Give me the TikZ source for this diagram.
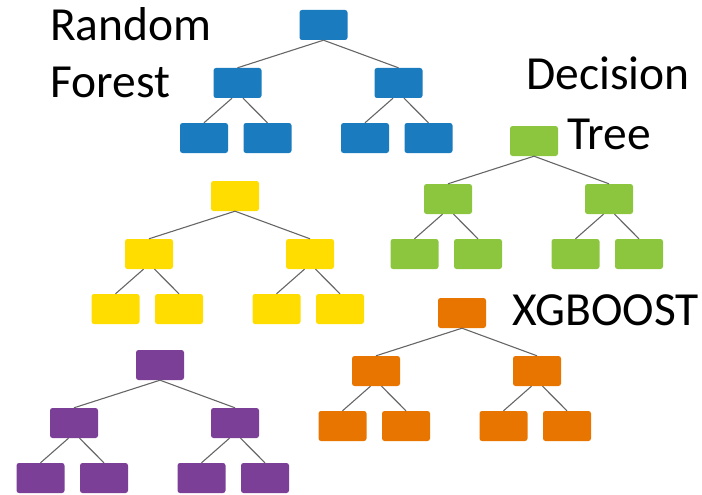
\documentclass[tikz,border=0pt]{standalone}
\usepackage{fontspec}
\setmainfont{Carlito}
\definecolor{tblue}{HTML}{1B7BBF}
\definecolor{tgreen}{HTML}{8CC63F}
\definecolor{tyellow}{HTML}{FFDD00}
\definecolor{torange}{HTML}{E87500}
\definecolor{tpurple}{HTML}{7B3F98}
\tikzset{
  leaf/.style={rectangle,rounded corners=2.5pt,minimum width=48pt,minimum height=30pt,inner sep=0pt,fill=#1},
  link/.style={draw=black!60,line width=1.1pt},
  caption/.style={inner sep=0pt,font=\fontsize{47.5}{47.5}\selectfont,text=black}
}
\newcommand{\maketree}[4]{%
  \begin{scope}[shift={(#3,#4)}]
    \node[leaf=#2] (#1r) at (0,0) {};
    \node[leaf=#2] (#1a) at (-86,58) {};
    \node[leaf=#2] (#1b) at (75,58) {};
    \node[leaf=#2] (#1c) at (-119.5,113) {};
    \node[leaf=#2] (#1d) at (-56,113) {};
    \node[leaf=#2] (#1e) at (41.5,113) {};
    \node[leaf=#2] (#1f) at (105,113) {};
    \draw[link] (#1r.south) -- (#1a.north);
    \draw[link] (#1r.south) -- (#1b.north);
    \draw[link] ([xshift=-5.5pt]#1a.south) -- (#1c.north);
    \draw[link] ([xshift=5.5pt]#1a.south) -- (#1d.north);
    \draw[link] ([xshift=-5.5pt]#1b.south) -- (#1e.north);
    \draw[link] ([xshift=5.5pt]#1b.south) -- (#1f.north);
  \end{scope}}
\begin{document}
\begin{tikzpicture}[x=1pt,y=-1pt]
\useasboundingbox (0,0) rectangle (702,495);
\maketree{b}{tblue}{323.5}{25}
\maketree{g}{tgreen}{534}{141}
\maketree{y}{tyellow}{235}{196}
\maketree{o}{torange}{462}{313}
\maketree{p}{tpurple}{160}{365}
\node[caption,anchor=base west] (t1) at (50,41) {Random};
\node[caption,anchor=base west] (t2) at (50,97) {Forest};
\node[caption,anchor=base west] (t3) at (526,90) {Decision};
\node[caption,anchor=base west] (t4) at (567,149) {Tree};
\node[caption,anchor=base west] (t5) at (512,325) {XGBOOST};
\end{tikzpicture}
\end{document}
